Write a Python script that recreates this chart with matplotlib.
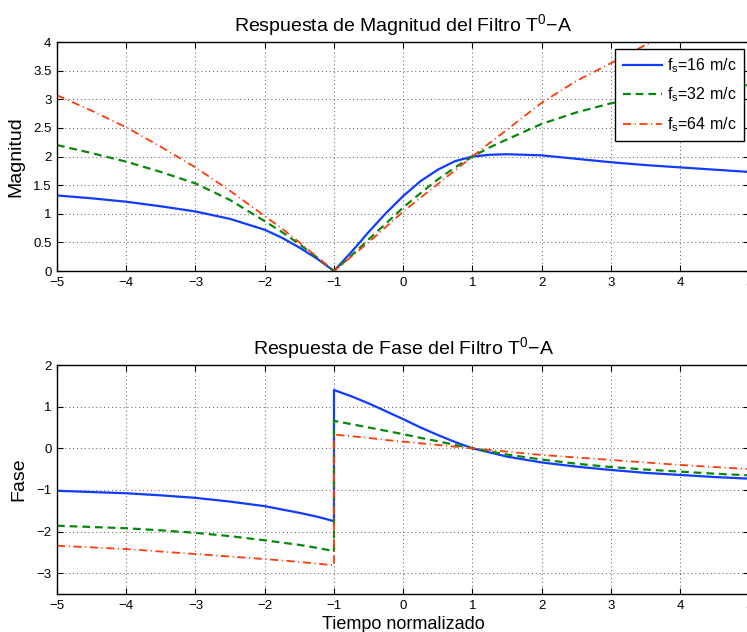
import numpy as np
import matplotlib
matplotlib.use('Agg')
from matplotlib import pyplot as plt
from matplotlib.ticker import FuncFormatter

plt.rcParams['font.family'] = ['Liberation Sans', 'DejaVu Sans']
plt.rcParams['mathtext.fontset'] = 'custom'
plt.rcParams['mathtext.rm'] = 'Liberation Sans'
plt.rcParams['mathtext.it'] = 'Liberation Sans'

# magnitude response
t_mag = [-5, -4.5, -4, -3.5, -3, -2.5, -2, -1.75, -1.5, -1.25, -1, -0.75, -0.5, -0.25,
         0, 0.25, 0.5, 0.75, 1, 1.25, 1.5, 2, 2.5, 3, 3.5, 4, 4.5, 5]
mag_16 = [1.32, 1.27, 1.21, 1.13, 1.04, 0.91, 0.72, 0.58, 0.41, 0.22, 0.0, 0.33, 0.68, 1.01,
          1.31, 1.57, 1.77, 1.92, 2.0, 2.03, 2.04, 2.02, 1.96, 1.90, 1.85, 1.81, 1.77, 1.73]
mag_32 = [2.20, 2.06, 1.91, 1.73, 1.53, 1.24, 0.87, 0.68, 0.47, 0.24, 0.0, 0.27, 0.55, 0.83,
          1.11, 1.36, 1.60, 1.81, 2.0, 2.16, 2.30, 2.57, 2.77, 2.93, 3.05, 3.13, 3.20, 3.25]
mag_64 = [3.07, 2.80, 2.51, 2.17, 1.81, 1.40, 0.96, 0.74, 0.50, 0.25, 0.0, 0.25, 0.50, 0.77,
          1.04, 1.28, 1.52, 1.76, 2.0, 2.24, 2.47, 2.94, 3.32, 3.63, 3.95, 4.25, 4.50, 4.75]

# phase response (jump at t = -1)
t_fase = [-5, -4.5, -4, -3.5, -3, -2.5, -2, -1.5, -1.25, -1, -1, -0.75, -0.5, -0.25,
          0, 0.25, 0.5, 0.75, 1, 1.5, 2, 2.5, 3, 3.5, 4, 4.5, 5]
fase_16 = [-1.02, -1.05, -1.08, -1.13, -1.19, -1.28, -1.39, -1.55, -1.64, -1.75, 1.40, 1.25, 1.08, 0.89,
           0.70, 0.50, 0.32, 0.15, 0.0, -0.20, -0.34, -0.44, -0.52, -0.59, -0.64, -0.69, -0.73]
fase_32 = [-1.86, -1.89, -1.92, -1.97, -2.03, -2.11, -2.21, -2.32, -2.39, -2.47, 0.66, 0.58, 0.50, 0.42,
           0.34, 0.25, 0.17, 0.08, 0.0, -0.15, -0.27, -0.37, -0.45, -0.51, -0.56, -0.61, -0.65]
fase_64 = [-2.34, -2.38, -2.42, -2.48, -2.54, -2.60, -2.66, -2.73, -2.77, -2.81, 0.33, 0.29, 0.25, 0.20,
           0.16, 0.12, 0.08, 0.04, 0.0, -0.08, -0.16, -0.22, -0.28, -0.34, -0.40, -0.45, -0.50]

labels = [r'$\mathregular{f_s}$=16 m/c', r'$\mathregular{f_s}$=32 m/c', r'$\mathregular{f_s}$=64 m/c']
xticks = [-5, -4, -3, -2, -1, 0, 1, 2, 3, 4, 5]

blue = '#0f3cff'
green = '#07880a'
red = '#ff3a0a'

fig = plt.figure(figsize=(7.47, 6.32), dpi=100)
ax1 = fig.add_axes([0.0763, 0.5712, 0.927, 0.3623])
ax2 = fig.add_axes([0.0763, 0.0601, 0.927, 0.3623])

fmt = FuncFormatter(lambda v, p: ('%g' % v).replace('-', '\u2212'))


def style(ax):
    ax.set_xlim(-5, 5)
    ax.set_xticks(xticks)
    ax.xaxis.set_major_formatter(fmt)
    ax.yaxis.set_major_formatter(fmt)
    ax.tick_params(direction='in', top=True, right=True, length=4, width=0.8,
                   labelsize=9.5, pad=4)
    ax.grid(True, linestyle=(0, (1, 3)), color='#555555', linewidth=0.7)
    for s in ax.spines.values():
        s.set_linewidth(1.0)


ax1.plot(t_mag, mag_16, color=blue, lw=1.6, label=labels[0])
ax1.plot(t_mag, mag_32, color=green, lw=1.6, dashes=(3.5, 2.2), label=labels[1])
ax1.plot(t_mag, mag_64, color=red, lw=1.3, dashes=(4.5, 2, 0.6, 2), label=labels[2])
style(ax1)
ax1.set_ylim(0, 4)
ax1.set_yticks(np.arange(0, 4.01, 0.5))
ax1.set_title('Respuesta de Magnitud del Filtro T$^{\\mathregular{0}}$\u2212A', fontsize=14, pad=8)
ax1.set_ylabel('Magnitud', fontsize=14, labelpad=6)
leg = ax1.legend(loc='upper right', bbox_to_anchor=(744 / 747, 1 - 49 / 632),
                 bbox_transform=fig.transFigure, fontsize=11.5,
                 frameon=True, fancybox=False, edgecolor='black', framealpha=1,
                 handlelength=2.5, handletextpad=0.3, borderpad=0.45, labelspacing=0.68,
                 borderaxespad=0)
leg.get_frame().set_linewidth(1.0)

ax2.plot(t_fase, fase_16, color=blue, lw=1.6)
ax2.plot(t_fase, fase_32, color=green, lw=1.6, dashes=(3.5, 2.2))
ax2.plot(t_fase, fase_64, color=red, lw=1.3, dashes=(4.5, 2, 0.6, 2))
style(ax2)
ax2.set_ylim(-3.5, 2)
ax2.set_yticks([-3, -2, -1, 0, 1, 2])
ax2.set_title('Respuesta de Fase del Filtro T$^{\\mathregular{0}}$\u2212A', fontsize=14, pad=8)
ax2.set_ylabel('Fase', fontsize=14, labelpad=6)
ax2.set_xlabel('Tiempo normalizado', fontsize=13, labelpad=3)

fig.savefig('out.png', dpi=100)
